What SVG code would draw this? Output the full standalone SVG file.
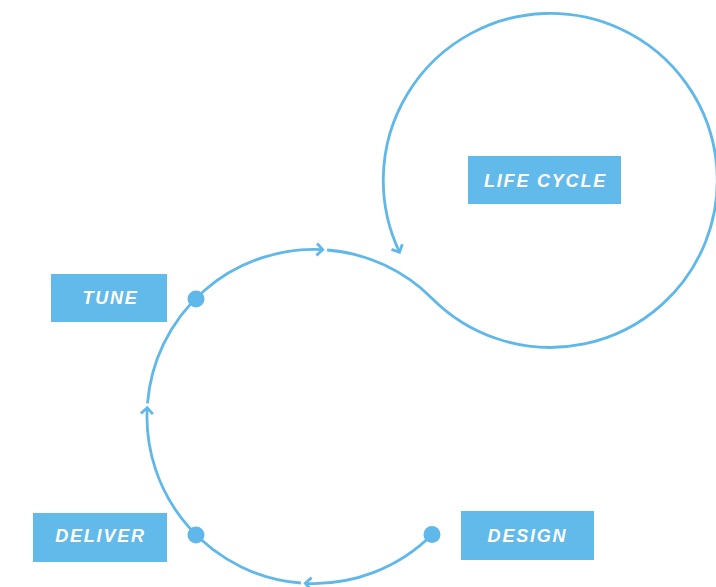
<svg xmlns="http://www.w3.org/2000/svg" width="716" height="587" viewBox="0 0 716 587">
  <style>
    .flow { fill: none; stroke: #5fb8e9; stroke-width: 2.8; stroke-linecap: butt; }
    .box { fill: #62baea; }
    .label { fill: #ffffff; font-family: "Liberation Sans", Arial, sans-serif; font-weight: bold; font-style: italic; font-size: 18px; letter-spacing: 1.8px; text-anchor: middle; }
    .dot { fill: #5fb8e9; }
  </style>
  <defs>
    <marker id="chev" markerUnits="userSpaceOnUse" markerWidth="20" markerHeight="20" viewBox="-10 -10 20 20" refX="0" refY="0" orient="auto">
      <path d="M-6,-6 L0,0 L-6,6" fill="none" stroke="#5fb8e9" stroke-width="2.8"/>
    </marker>
  </defs>
  <rect width="716" height="587" fill="#ffffff"/>
  <g id="connectors">
    <path class="flow" marker-end="url(#chev)" d="M432.1,534.6 A167,167 0 0 1 305.3,583.3"/>
    <path class="flow" marker-end="url(#chev)" d="M300.9,583 A167,167 0 0 1 147.2,407.8"/>
    <path class="flow" marker-end="url(#chev)" d="M147.5,403.4 A167,167 0 0 1 322.7,249.7"/>
    <path class="flow" marker-end="url(#chev)" d="M327.1,250 A167,167 0 0 1 432.1,298.4 A167,167 0 1 0 399.5,252.2"/>
  </g>
  <g id="life-cycle">
    <rect class="box" x="468" y="156" width="153" height="48"/>
    <text class="label" x="545.5" y="187">LIFE CYCLE</text>
  </g>
  <g id="tune">
    <rect class="box" x="51" y="274" width="116" height="48"/>
    <text class="label" x="110.5" y="304">TUNE</text>
    <circle class="dot" cx="196" cy="299" r="8.5"/>
  </g>
  <g id="deliver">
    <rect class="box" x="33" y="513" width="134" height="49"/>
    <text class="label" x="100.5" y="542">DELIVER</text>
    <circle class="dot" cx="196" cy="535" r="8.5"/>
  </g>
  <g id="design">
    <rect class="box" x="461" y="511" width="133" height="49"/>
    <text class="label" x="527.5" y="542">DESIGN</text>
    <circle class="dot" cx="432" cy="534.6" r="8.5"/>
  </g>
</svg>
